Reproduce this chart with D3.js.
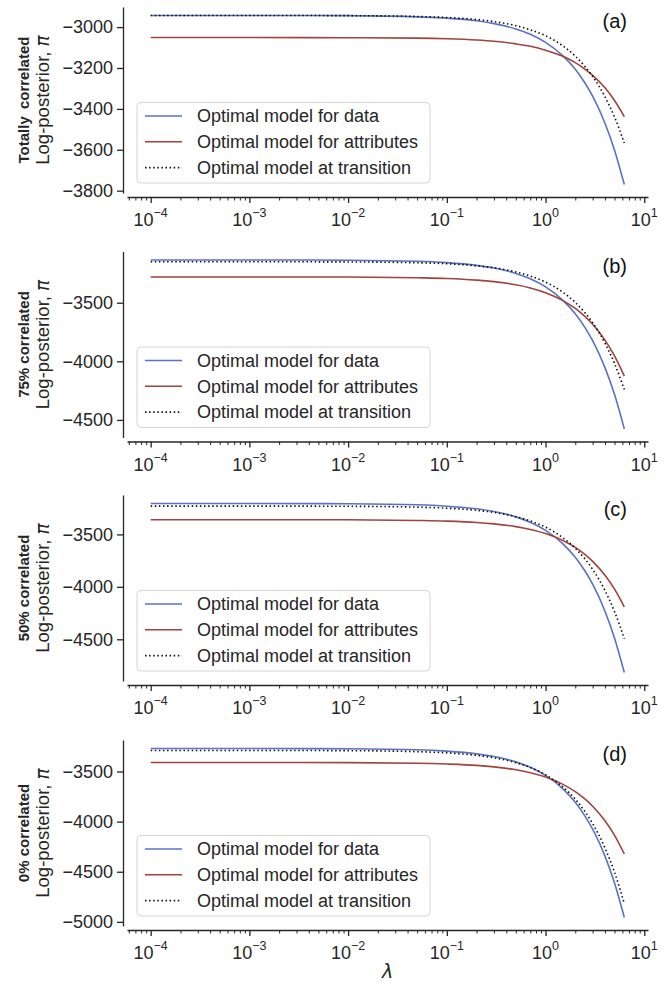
<!DOCTYPE html>
<html><head><meta charset="utf-8">
<script src="https://cdn.jsdelivr.net/npm/d3@7"></script>
<style>body{margin:0;background:#fff}svg{display:block}</style>
</head><body>
<svg id="chart" width="672" height="985"></svg>
<script>
// ---- data ----
const lambdas = [1e-4, 1e-3, 1e-2, 0.05, 0.1, 0.2, 0.3, 0.5, 0.7, 1, 1.5, 2, 2.5, 3, 4, 5, 6.28];
const panelNames = ["Totally correlated", "75% correlated", "50% correlated", "0% correlated"];
const panelTags = ["(a)", "(b)", "(c)", "(d)"];
const seriesNames = ["Optimal model for data", "Optimal model for attributes", "Optimal model at transition"];

const dataA = [-2943,-2943,-2944,-2950,-2956,-2969,-2983,-3009,-3035,-3075,-3141,-3206,-3272,-3338,-3470,-3602,-3770];
const attrA = [-3051,-3051,-3052,-3054,-3057,-3063,-3069,-3082,-3094,-3113,-3143,-3174,-3205,-3236,-3297,-3359,-3438];
const transA = [-2943,-2943,-2944,-2948,-2953,-2963,-2973,-2993,-3013,-3042,-3092,-3142,-3192,-3241,-3341,-3440,-3567];

const dataB = [-3135,-3135,-3137,-3146,-3158,-3181,-3204,-3250,-3296,-3365,-3480,-3595,-3710,-3824,-4054,-4284,-4578];
const attrB = [-3280,-3280,-3281,-3287,-3293,-3307,-3320,-3347,-3374,-3415,-3482,-3549,-3617,-3684,-3819,-3954,-4126];
const transB = [-3150,-3150,-3152,-3159,-3167,-3185,-3202,-3237,-3272,-3324,-3411,-3497,-3584,-3671,-3845,-4019,-4241];

const dataC = [-3205,-3205,-3208,-3218,-3231,-3256,-3282,-3333,-3385,-3462,-3590,-3718,-3847,-3975,-4232,-4489,-4817];
const attrC = [-3360,-3360,-3361,-3367,-3373,-3386,-3400,-3426,-3453,-3492,-3558,-3624,-3691,-3757,-3889,-4021,-4190];
const transC = [-3230,-3230,-3232,-3240,-3250,-3270,-3290,-3331,-3371,-3431,-3532,-3633,-3733,-3834,-4035,-4237,-4494];

const dataD = [-3270,-3270,-3273,-3283,-3297,-3324,-3351,-3404,-3458,-3539,-3673,-3807,-3942,-4076,-4344,-4613,-4957];
const attrD = [-3410,-3410,-3411,-3417,-3425,-3439,-3454,-3483,-3512,-3555,-3628,-3701,-3774,-3846,-3992,-4137,-4323];
const transD = [-3290,-3290,-3292,-3302,-3314,-3339,-3363,-3412,-3460,-3533,-3655,-3776,-3898,-4020,-4263,-4506,-4817];

const yTicksA = [-3000,-3200,-3400,-3600,-3800];
const yTicksB = [-3500,-4000,-4500];
const yTicksC = [-3500,-4000,-4500];
const yTicksD = [-3500,-4000,-4500,-5000];

const xTicks = [1e-4, 1e-3, 1e-2, 1e-1, 1, 10];
const xTickExps = ["\u22124", "\u22123", "\u22122", "\u22121", "0", "1"];

// ---- drawing ----
const panels = [
  {series:[dataA, attrA, transA], ticks:yTicksA},
  {series:[dataB, attrB, transB], ticks:yTicksB},
  {series:[dataC, attrC, transC], ticks:yTicksC},
  {series:[dataD, attrD, transD], ticks:yTicksD}
];
const colors = ["#5a72c6", "#a4423e", "#111111"];
const dashes = [null, null, "1.5,2.6"];
const font = "'Liberation Sans', Arial, sans-serif";
const ink = "#262626";
const fs = "18px";

const svg = d3.select("#chart");
const left = 127, right = 648, H = 186;
const tops = [7, 251.5, 495, 740];
const off = 4;

const lx0 = Math.log10(lambdas[0]), lx1 = Math.log10(lambdas[lambdas.length-1]);
const lpad = (lx1 - lx0) * 0.05;
const x = d3.scaleLog().domain([Math.pow(10, lx0 - lpad), Math.pow(10, lx1 + lpad)]).range([left, right]);

const minor = [];
for (let e = -5; e <= 1; e++) for (let k = 2; k <= 9; k++) {
  const v = k * Math.pow(10, e);
  if (v >= x.domain()[0] && v <= x.domain()[1]) minor.push(v);
}

const fmt = v => (v < 0 ? "\u2212" : "") + Math.abs(v);

panels.forEach((p, i) => {
  const top = tops[i], bottom = top + H;
  const all = p.series.flat();
  const [lo, hi] = d3.extent(all);
  const pad = (hi - lo) * 0.05;
  const y = d3.scaleLinear().domain([lo - pad, hi + pad]).range([bottom, top]);
  const g = svg.append("g");

  // y axis
  const ya = g.append("g").attr("transform", `translate(${left - off},0)`)
    .call(d3.axisLeft(y).tickValues(p.ticks).tickFormat(fmt).tickSize(6).tickPadding(4).tickSizeOuter(0));
  ya.select(".domain").attr("stroke", ink).attr("stroke-width", 1.3);
  ya.selectAll(".tick line").attr("stroke", ink).attr("stroke-width", 1.3);
  ya.selectAll(".tick text").attr("fill", ink).style("font-family", font).style("font-size", fs);

  // x axis
  const xa = g.append("g").attr("transform", `translate(0,${bottom + off})`)
    .call(d3.axisBottom(x).tickValues(xTicks).tickFormat("").tickSize(6).tickSizeOuter(0));
  xa.select(".domain").attr("stroke", ink).attr("stroke-width", 1.3);
  xa.selectAll(".tick line").attr("stroke", ink).attr("stroke-width", 1.3);
  const xm = g.append("g").attr("transform", `translate(0,${bottom + off})`)
    .call(d3.axisBottom(x).tickValues(minor).tickFormat("").tickSize(3.5).tickSizeOuter(0));
  xm.select(".domain").remove();
  xm.selectAll(".tick line").attr("stroke", ink).attr("stroke-width", 1);

  const tl = g.append("g");
  xTicks.forEach((v, j) => {
    const t = tl.append("text").attr("x", x(v)).attr("y", bottom + off + 29)
      .attr("text-anchor", "middle").attr("fill", ink)
      .style("font-family", font).style("font-size", fs);
    t.append("tspan").text("10");
    t.append("tspan").attr("dy", -9).style("font-size", "12.5px").text(xTickExps[j]);
  });

  // lines
  const line = d3.line().x((d, k) => x(lambdas[k])).y(d => y(d)).curve(d3.curveMonotoneX);
  p.series.forEach((s, k) => {
    g.append("path").datum(s).attr("d", line).attr("fill", "none")
      .attr("stroke", colors[k]).attr("stroke-width", 1.6)
      .attr("stroke-dasharray", dashes[k]);
  });

  // legend
  const bx = 137, bw = 293, bh = 80.5, by = bottom - 10 - bh;
  const lg = g.append("g");
  lg.append("rect").attr("x", bx).attr("y", by).attr("width", bw).attr("height", bh)
    .attr("rx", 4).attr("fill", "#fff").attr("fill-opacity", 0.8)
    .attr("stroke", "#d5d5d5").attr("stroke-width", 1);
  seriesNames.forEach((n, k) => {
    const ry = by + 13.5 + k * 25.8;
    lg.append("line").attr("x1", bx + 8).attr("x2", bx + 45).attr("y1", ry).attr("y2", ry)
      .attr("stroke", colors[k]).attr("stroke-width", 1.6).attr("stroke-dasharray", dashes[k]);
    lg.append("text").attr("x", bx + 60).attr("y", ry).attr("dy", "0.35em")
      .attr("fill", ink).style("font-family", font).style("font-size", fs).text(n);
  });

  // panel tag
  g.append("text").attr("x", 627).attr("y", top + 14).attr("dy", "0.35em").attr("text-anchor", "end")
    .attr("fill", "#111").style("font-family", font).style("font-size", "20px").text(panelTags[i]);

  // y labels
  const cy = (top + bottom) / 2;
  g.append("text").attr("transform", `translate(29,${cy}) rotate(-90)`).attr("text-anchor", "middle")
    .attr("fill", ink).style("font-family", font).style("font-size", "15px").style("font-weight", "bold")
    .style("word-spacing", i === 0 ? "3px" : "0px").text(panelNames[i]);
  const yl = g.append("text").attr("transform", `translate(49,${cy}) rotate(-90)`).attr("text-anchor", "middle")
    .attr("fill", ink).style("font-family", font).style("font-size", "18.5px");
  yl.append("tspan").text("Log-posterior, ");
  yl.append("tspan").style("font-style", "italic").style("font-family", "'DejaVu Sans', sans-serif").text("\u03c0");
});

svg.append("text").attr("x", (left + right) / 2).attr("y", 978)
  .attr("text-anchor", "middle").attr("fill", ink)
  .style("font-family", "'DejaVu Sans', sans-serif").style("font-style", "italic").style("font-size", "19px").text("\u03bb");
</script>
</body></html>
